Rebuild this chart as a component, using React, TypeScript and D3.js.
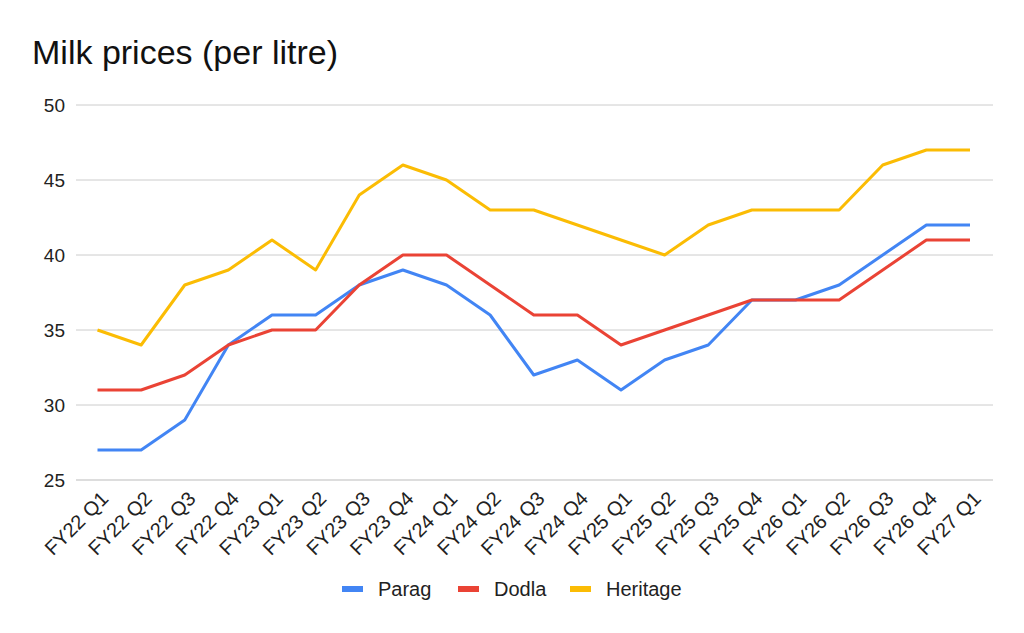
import { useEffect, useRef } from "react";
import * as d3 from "d3";

const quarters = [
  "FY22 Q1", "FY22 Q2", "FY22 Q3", "FY22 Q4",
  "FY23 Q1", "FY23 Q2", "FY23 Q3", "FY23 Q4",
  "FY24 Q1", "FY24 Q2", "FY24 Q3", "FY24 Q4",
  "FY25 Q1", "FY25 Q2", "FY25 Q3", "FY25 Q4",
  "FY26 Q1", "FY26 Q2", "FY26 Q3", "FY26 Q4",
  "FY27 Q1",
];
const parag = [27, 27, 29, 34, 36, 36, 38, 39, 38, 36, 32, 33, 31, 33, 34, 37, 37, 38, 40, 42, 42];
const dodla = [31, 31, 32, 34, 35, 35, 38, 40, 40, 38, 36, 36, 34, 35, 36, 37, 37, 37, 39, 41, 41];
const heritage = [35, 34, 38, 39, 41, 39, 44, 46, 45, 43, 43, 42, 41, 40, 42, 43, 43, 43, 46, 47, 47];
const yTicks = [25, 30, 35, 40, 45, 50];

const series = [
  { name: "Parag", values: parag, color: "#4285f4" },
  { name: "Dodla", values: dodla, color: "#ea4335" },
  { name: "Heritage", values: heritage, color: "#fbbc04" },
];

export default function App() {
  const svgRef = useRef<SVGSVGElement | null>(null);
  const width = 1024;
  const height = 633;

  useEffect(() => {
    if (!svgRef.current) return;
    const svg = d3.select(svgRef.current);
    svg.selectAll("*").remove();

    const font = "Arial, 'Liberation Sans', sans-serif";
    const left = 76, right = 993, top = 105, bottom = 480;

    const x = d3.scalePoint<string>().domain(quarters).range([97.5, 970]);
    const y = d3.scaleLinear().domain([25, 50]).range([bottom, top]);

    svg.append("rect").attr("width", width).attr("height", height).attr("fill", "#fff");

    svg.append("text")
      .attr("x", 32).attr("y", 64)
      .attr("font-family", font).attr("font-size", 34).attr("fill", "#111")
      .text("Milk prices (per litre)");

    // gridlines
    const grid = svg.append("g");
    grid.selectAll("line").data(yTicks).enter().append("line")
      .attr("x1", left).attr("x2", right)
      .attr("y1", (d) => y(d)).attr("y2", (d) => y(d))
      .attr("stroke", (d) => (d === 25 ? "#bbb" : "#ccc"))
      .attr("stroke-width", 1);

    grid.selectAll("text").data(yTicks).enter().append("text")
      .attr("x", 65).attr("y", (d) => y(d) + 7)
      .attr("text-anchor", "end")
      .attr("font-family", font).attr("font-size", 19).attr("fill", "#222")
      .text((d) => d);

    // x labels
    svg.append("g").selectAll("text").data(quarters).enter().append("text")
      .attr("transform", (d) => `translate(${x(d)! + 12},${bottom + 20}) rotate(-45)`)
      .attr("text-anchor", "end")
      .attr("font-family", font).attr("font-size", 20).attr("fill", "#222")
      .text((d) => d);

    const line = d3.line<number>()
      .x((_, i) => x(quarters[i])!)
      .y((d) => y(d));

    svg.append("g").selectAll("path").data(series).enter().append("path")
      .attr("d", (s) => line(s.values))
      .attr("fill", "none")
      .attr("stroke", (s) => s.color)
      .attr("stroke-width", 3)
      .attr("stroke-linejoin", "round");

    // legend
    const legendX = [342, 458, 570];
    const legend = svg.append("g").selectAll("g").data(series).enter().append("g")
      .attr("transform", (_, i) => `translate(${legendX[i]},589)`);
    legend.append("rect")
      .attr("x", 0).attr("y", -3).attr("width", 21).attr("height", 6)
      .attr("fill", (s) => s.color);
    legend.append("text")
      .attr("x", 36).attr("y", 7)
      .attr("font-family", font).attr("font-size", 20).attr("fill", "#222")
      .text((s) => s.name);
  }, []);

  return (
    <div style={{ margin: -8 }}>
      <svg ref={svgRef} width={width} height={height} style={{ display: "block" }}></svg>
    </div>
  );
}
